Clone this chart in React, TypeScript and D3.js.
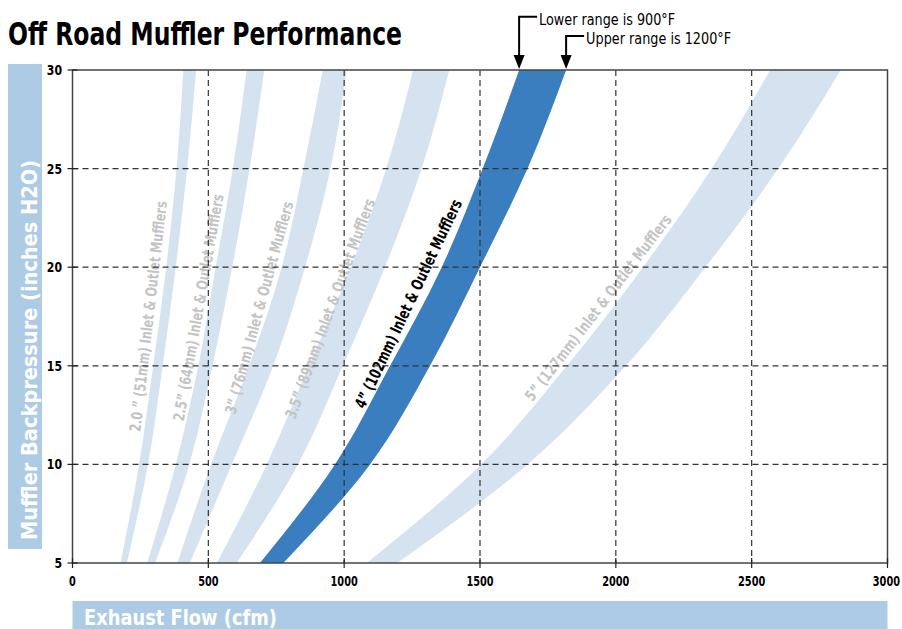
import React, { useEffect, useRef } from "react";
import * as d3 from "d3";

const WIDTH = 902;
const HEIGHT = 629;
const FONT = "'Liberation Sans Narrow', 'DejaVu Sans Condensed', 'Liberation Sans', Arial, sans-serif";

// backpressure (inches H2O) at which the band edges were read
const pressure = [5, 10, 15, 20, 25, 30];

// exhaust flow (cfm): low edge = 900°F, high edge = 1200°F
const flow20Low = [177, 245, 297, 345, 383, 408];
const flow20High = [200, 278, 332, 380, 422, 455];
const flow25Low = [275, 380, 463, 527, 590, 641];
const flow25High = [304, 430, 515, 588, 652, 706];
const flow30Low = [386, 510, 650, 770, 850, 921];
const flow30High = [432, 586, 739, 856, 950, 1009];
const flow35Low = [531, 715, 870, 1025, 1155, 1254];
const flow35High = [604, 830, 995, 1150, 1285, 1387];
const flow40Low = [690, 966, 1169, 1359, 1510, 1644];
const flow40High = [776, 1095, 1316, 1500, 1675, 1817];
const flow50Low = [1083, 1504, 1820, 2100, 2353, 2568];
const flow50High = [1195, 1675, 2037, 2330, 2598, 2828];

const bandNames = [
	"2.0 \u201D (51mm) Inlet & Outlet Mufflers",
	"2.5\u201D (64mm) Inlet & Outlet Mufflers",
	"3\u201D (76mm) Inlet & Outlet Mufflers",
	"3.5\u201D (89mm) Inlet & Outlet Mufflers",
	"4\u201D (102mm) Inlet & Outlet Mufflers",
	"5\u201D (127mm) Inlet & Outlet Mufflers",
];
// label centre (flow, pressure), angle and length along the band
const labelFlow = [279, 463, 687, 948, 1236, 1935];
const labelPressure = [17.5, 17.95, 17.95, 17.9, 18.15, 17.95];
const labelAngle = [-83.4, -80, -74.6, -69.8, -64.6, -52.5];
const labelLength = [232, 230, 220, 233, 229, 230];

const xTicks = [0, 500, 1000, 1500, 2000, 2500, 3000];
const yTicks = [5, 10, 15, 20, 25, 30];

const LIGHT = "#d5e3f1";
const DARK = "#3a7ebf";
const LABEL_BOX = "#aecbe5";

export default function App() {
	const svgRef = useRef<SVGSVGElement>(null);

	useEffect(() => {
		document.body.style.margin = "0";
		const svg = d3.select(svgRef.current);
		svg.selectAll("*").remove();

		const x = d3.scaleLinear().domain([0, 3000]).range([72.5, 887.5]);
		const y = d3.scaleLinear().domain([5, 30]).range([563, 70]);
		const [x0, x1] = x.range();
		const [yb, yt] = y.range();

		const bands = [
			{ low: flow20Low, high: flow20High },
			{ low: flow25Low, high: flow25High },
			{ low: flow30Low, high: flow30High },
			{ low: flow35Low, high: flow35High },
			{ low: flow40Low, high: flow40High },
			{ low: flow50Low, high: flow50High },
		].map((b, i) => ({
			...b,
			name: bandNames[i],
			main: i === 4,
			pts: pressure.map((p, j) => ({ p, lo: b.low[j], hi: b.high[j] })),
		}));

		// title
		svg.append("text")
			.attr("x", 8)
			.attr("y", 45)
			.attr("font-family", FONT)
			.attr("font-weight", "bold")
			.attr("font-size", 32)
			.attr("textLength", 394)
			.attr("lengthAdjust", "spacingAndGlyphs")
			.text("Off Road Muffler Performance");

		// axis title boxes
		svg.append("rect").attr("x", 8).attr("y", 64).attr("width", 34).attr("height", 485).attr("fill", LABEL_BOX);
		svg.append("text")
			.attr("transform", "translate(37,350) rotate(-90)")
			.attr("text-anchor", "middle")
			.attr("font-family", FONT)
			.attr("font-weight", "bold")
			.attr("font-size", 21)
			.attr("fill", "white")
			.attr("textLength", 380)
			.attr("lengthAdjust", "spacingAndGlyphs")
			.text("Muffler Backpressure (inches H2O)");

		svg.append("rect").attr("x", x0).attr("y", 601).attr("width", x1 - x0).attr("height", 28).attr("fill", LABEL_BOX);
		svg.append("text")
			.attr("x", 84)
			.attr("y", 625)
			.attr("font-family", FONT)
			.attr("font-weight", "bold")
			.attr("font-size", 22)
			.attr("fill", "white")
			.attr("textLength", 193)
			.attr("lengthAdjust", "spacingAndGlyphs")
			.text("Exhaust Flow (cfm)");

		// bands
		svg.append("clipPath")
			.attr("id", "plotClip")
			.append("rect")
			.attr("x", x0)
			.attr("y", yt)
			.attr("width", x1 - x0)
			.attr("height", yb - yt);

		const area = d3
			.area<{ p: number; lo: number; hi: number }>()
			.y((d) => y(d.p))
			.x0((d) => x(d.lo))
			.x1((d) => x(d.hi))
			.curve(d3.curveMonotoneY);

		svg.append("g")
			.attr("clip-path", "url(#plotClip)")
			.selectAll("path")
			.data(bands)
			.join("path")
			.attr("d", (d) => area(d.pts))
			.attr("fill", (d) => (d.main ? DARK : LIGHT));

		// band labels
		svg.append("g")
			.selectAll("text")
			.data(bands)
			.join("text")
			.attr(
				"transform",
				(d, i) => `translate(${x(labelFlow[i])},${y(labelPressure[i])}) rotate(${labelAngle[i]})`,
			)
			.attr("text-anchor", "middle")
			.attr("dy", "0.35em")
			.attr("font-family", FONT)
			.attr("font-weight", "bold")
			.attr("font-size", (d) => (d.main ? 16 : 15.5))
			.attr("fill", (d) => (d.main ? "#000" : "#c4c4c4"))
			.attr("textLength", (d, i) => labelLength[i])
			.attr("lengthAdjust", "spacingAndGlyphs")
			.text((d) => d.name);

		// grid
		const grid = svg.append("g").attr("stroke", "#333").attr("stroke-width", 1.2).attr("stroke-dasharray", "6,4");
		grid.selectAll(".vg")
			.data(xTicks.slice(1, -1))
			.join("line")
			.attr("x1", (d) => x(d))
			.attr("x2", (d) => x(d))
			.attr("y1", yt)
			.attr("y2", yb);
		grid.selectAll(".hg")
			.data(yTicks.slice(1, -1))
			.join("line")
			.attr("class", "hg")
			.attr("x1", x0)
			.attr("x2", x1)
			.attr("y1", (d) => y(d))
			.attr("y2", (d) => y(d));

		// frame and axes
		svg.append("rect")
			.attr("x", x0)
			.attr("y", yt)
			.attr("width", x1 - x0)
			.attr("height", yb - yt)
			.attr("fill", "none")
			.attr("stroke", "#444")
			.attr("stroke-width", 1.5);

		const ticks = svg.append("g").attr("stroke", "#222").attr("stroke-width", 1.2);
		ticks.selectAll(".xt")
			.data(xTicks)
			.join("line")
			.attr("x1", (d) => x(d))
			.attr("x2", (d) => x(d))
			.attr("y1", yb - 5)
			.attr("y2", yb + 5);
		ticks.selectAll(".yt")
			.data(yTicks)
			.join("line")
			.attr("class", "yt")
			.attr("x1", x0 - 5)
			.attr("x2", x0 + 5)
			.attr("y1", (d) => y(d))
			.attr("y2", (d) => y(d));

		const lastTick = xTicks[xTicks.length - 1];
		svg.append("g")
			.selectAll("text")
			.data(xTicks)
			.join("text")
			.attr("x", (d) => (d === lastTick ? 900 : x(d)))
			.attr("y", 586)
			.attr("text-anchor", (d) => (d === lastTick ? "end" : "middle"))
			.attr("font-family", FONT)
			.attr("font-weight", "bold")
			.attr("font-size", 14)
			.attr("textLength", (d) => String(d).length * 6.8)
			.attr("lengthAdjust", "spacingAndGlyphs")
			.text((d) => d);

		svg.append("g")
			.selectAll("text")
			.data(yTicks)
			.join("text")
			.attr("x", 62)
			.attr("y", (d) => y(d) + 5)
			.attr("text-anchor", "end")
			.attr("font-family", FONT)
			.attr("font-weight", "bold")
			.attr("font-size", 14)
			.attr("textLength", (d) => String(d).length * 7.6)
			.attr("lengthAdjust", "spacingAndGlyphs")
			.text((d) => d);

		// temperature range callouts, pointing at the top of the 4" band
		const last = pressure.length - 1;
		const callouts = [
			{ flow: flow40Low[last], lineY: 16.7, text: "Lower range is 900\u00B0F", len: 136 },
			{ flow: flow40High[last], lineY: 36, text: "Upper range is 1200\u00B0F", len: 145 },
		];
		callouts.forEach((c) => {
			const cx = x(c.flow);
			svg.append("path")
				.attr("d", `M${cx + 18},${c.lineY}H${cx}V${yt - 14}`)
				.attr("fill", "none")
				.attr("stroke", "#000")
				.attr("stroke-width", 2);
			svg.append("path")
				.attr("d", `M${cx - 5.5},${yt - 15}L${cx + 5.5},${yt - 15}L${cx},${yt - 1}Z`)
				.attr("fill", "#000");
			svg.append("text")
				.attr("x", cx + 20)
				.attr("y", c.lineY + 8)
				.attr("font-family", FONT)
				.attr("font-size", 16)
				.attr("textLength", c.len)
				.attr("lengthAdjust", "spacingAndGlyphs")
				.text(c.text);
		});
	}, []);

	return <svg ref={svgRef} width={WIDTH} height={HEIGHT} style={{ display: "block" }} />;
}
